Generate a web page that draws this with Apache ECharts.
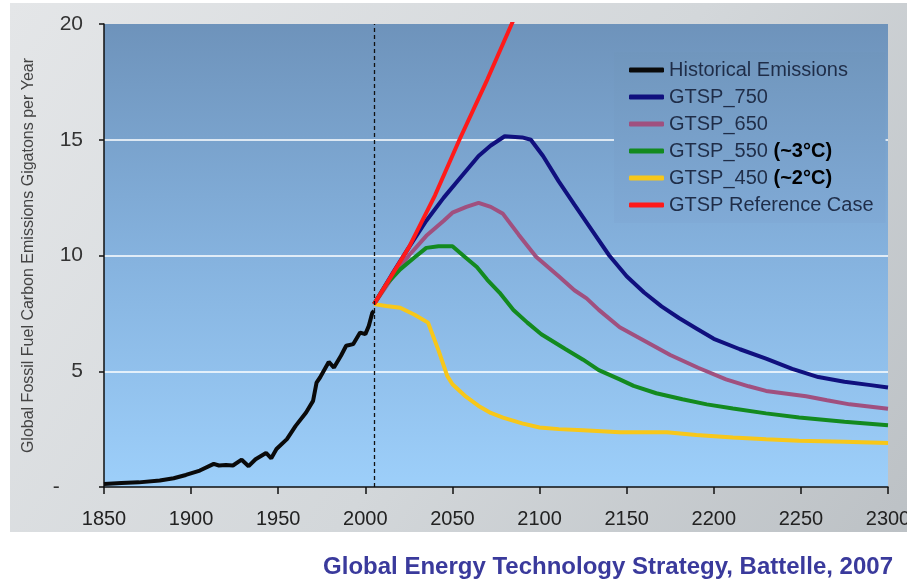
<!DOCTYPE html>
<html>
<head>
<meta charset="utf-8">
<title>Global Fossil Fuel Carbon Emissions</title>
<script src="https://cdn.jsdelivr.net/npm/echarts@6/dist/echarts.min.js"></script>
<style>
  html, body { margin: 0; padding: 0; background: #ffffff; }
  #chart {
    width: 907px;
    height: 581px;
    background-color: #ffffff;
    background-image: linear-gradient(125deg, #e4e6e8 0%, #d3d7da 55%, #bcc1c5 100%);
    background-repeat: no-repeat;
    background-position: 10px 3px;
    background-size: 897px 529px;
  }
</style>
</head>
<body>
<div id="chart"></div>
<script>
// historical emissions (GtC / yr)
const histYears = [1850, 1860, 1870, 1882, 1890, 1897, 1905, 1913, 1916, 1920, 1924, 1929, 1933, 1937, 1943, 1946, 1949, 1955, 1960, 1966, 1970, 1972, 1974, 1979, 1982, 1986, 1989, 1993, 1997, 2000, 2002, 2004, 2005];
const histVals  = [0.13, 0.17, 0.2, 0.28, 0.38, 0.52, 0.71, 1.0, 0.93, 0.95, 0.93, 1.18, 0.9, 1.2, 1.47, 1.24, 1.64, 2.07, 2.64, 3.22, 3.72, 4.51, 4.73, 5.4, 5.16, 5.67, 6.1, 6.17, 6.67, 6.6, 6.96, 7.53, 7.6];

// GTSP_750
const g750Years = [2005, 2015, 2025, 2035, 2045, 2055, 2065, 2072, 2080, 2090, 2095, 2102, 2111, 2120, 2130, 2140, 2150, 2160, 2170, 2180, 2190, 2200, 2215, 2230, 2245, 2260, 2275, 2290, 2300];
const g750Vals  = [7.9, 9.15, 10.35, 11.5, 12.5, 13.4, 14.3, 14.75, 15.15, 15.1, 15.0, 14.3, 13.2, 12.2, 11.1, 10.0, 9.1, 8.4, 7.8, 7.3, 6.85, 6.4, 5.95, 5.55, 5.1, 4.75, 4.55, 4.4, 4.3];

// GTSP_650
const g650Years = [2005, 2015, 2025, 2035, 2045, 2050, 2058, 2065, 2072, 2079, 2088, 2098, 2111, 2120, 2127, 2134, 2146, 2163, 2175, 2191, 2207, 2220, 2230, 2253, 2265, 2278, 2300];
const g650Vals  = [7.9, 9.0, 10.0, 10.85, 11.5, 11.85, 12.1, 12.27, 12.1, 11.8, 10.9, 9.95, 9.1, 8.5, 8.15, 7.65, 6.9, 6.2, 5.7, 5.15, 4.65, 4.35, 4.15, 3.92, 3.75, 3.57, 3.38];

// GTSP_550
const g550Years = [2005, 2012, 2020, 2028, 2035, 2042, 2050, 2057, 2064, 2070, 2077, 2085, 2093, 2101, 2115, 2125, 2134, 2146, 2154, 2167, 2182, 2196, 2211, 2230, 2249, 2275, 2300];
const g550Vals  = [7.9, 8.75, 9.4, 9.9, 10.33, 10.4, 10.4, 9.95, 9.5, 8.95, 8.4, 7.65, 7.1, 6.6, 5.95, 5.5, 5.05, 4.65, 4.37, 4.05, 3.79, 3.57, 3.39, 3.18, 3.0, 2.82, 2.67];

// GTSP_450
const g450Years = [2005, 2012, 2020, 2028, 2036, 2042, 2047, 2050, 2057, 2065, 2072, 2079, 2090, 2100, 2111, 2125, 2146, 2173, 2190, 2211, 2230, 2249, 2275, 2300];
const g450Vals  = [7.9, 7.82, 7.74, 7.45, 7.1, 5.9, 4.8, 4.44, 3.95, 3.5, 3.2, 3.0, 2.75, 2.57, 2.5, 2.45, 2.36, 2.36, 2.25, 2.14, 2.06, 2.0, 1.95, 1.9];

// GTSP Reference Case
const refYears = [2005, 2025, 2040, 2054, 2070, 2084, 2095];
const refVals  = [7.9, 10.35, 12.6, 15.0, 17.6, 20.0, 21.9];

const xTicks = [1850, 1900, 1950, 2000, 2050, 2100, 2150, 2200, 2250, 2300];
const yTicks = [0, 5, 10, 15, 20];

function pairs(xs, ys) {
  return xs.map((x, i) => [x, ys[i]]);
}

const arial = "'Liberation Sans', Arial, sans-serif";

let chart = echarts.init(document.getElementById("chart"));

function lineSeries(name, data, color, extra) {
  return Object.assign({
    name: name,
    type: "line",
    data: data,
    showSymbol: false,
    symbol: "none",
    smooth: false,
    lineStyle: { color: color, width: 4 },
    itemStyle: { color: color }
  }, extra || {});
}

const option = {
  backgroundColor: "transparent",
  animation: false,
  title: {
    text: "Global Energy Technology Strategy, Battelle, 2007",
    right: 9,
    top: 550,
    textStyle: { color: "#3a3a9c", fontSize: 24, fontWeight: "bold", fontFamily: arial }
  },
  grid: {
    left: 104,
    right: 19,
    top: 24,
    bottom: 94,
    outerBoundsMode: "none",
    containLabel: false,
    show: true,
    borderWidth: 0,
    backgroundColor: new echarts.graphic.LinearGradient(0, 0, 0, 1, [
      { offset: 0, color: "#6e93bb" },
      { offset: 0.5, color: "#85b2de" },
      { offset: 1, color: "#9dcffa" }
    ])
  },
  legend: {
    left: 614,
    top: 52,
    orient: "vertical",
    padding: [8, 12, 8, 15],
    itemGap: 7,
    itemWidth: 35,
    itemHeight: 5,
    icon: "roundRect",
    backgroundColor: new echarts.graphic.LinearGradient(0, 0, 0, 1, [
      { offset: 0, color: "#7096bd" },
      { offset: 1, color: "#80aad6" }
    ]),
    data: ["Historical Emissions", "GTSP_750", "GTSP_650", "GTSP_550", "GTSP_450", "GTSP Reference Case"],
    formatter: function (name) {
      if (name === "GTSP_550") return name + " {b|(~3°C)}";
      if (name === "GTSP_450") return name + " {b|(~2°C)}";
      return name;
    },
    textStyle: {
      color: "#1f2d48",
      fontSize: 20,
      fontFamily: arial,
      rich: { b: { color: "#000", fontWeight: "bold", fontSize: 20, fontFamily: arial } }
    }
  },
  xAxis: {
    type: "value",
    min: xTicks[0],
    max: xTicks[xTicks.length - 1],
    interval: 50,
    splitLine: { show: false },
    axisLine: { show: true, lineStyle: { color: "#111", width: 1.5 } },
    axisTick: { show: true, length: 7, lineStyle: { color: "#111", width: 1.5 } },
    axisLabel: {
      color: "#222",
      fontSize: 20,
      fontFamily: arial,
      margin: 22,
      showMaxLabel: true,
      formatter: function (v) { return String(v); }
    }
  },
  yAxis: {
    type: "value",
    min: yTicks[0],
    max: yTicks[yTicks.length - 1],
    interval: 5,
    name: "Global Fossil Fuel Carbon Emissions Gigatons per Year",
    nameLocation: "middle",
    nameGap: 67,
    nameTextStyle: { color: "#444", fontSize: 16, fontFamily: arial },
    axisLine: { show: true, lineStyle: { color: "#111", width: 1.5 } },
    axisTick: { show: true, length: 5, lineStyle: { color: "#111", width: 1.5 } },
    axisLabel: {
      color: "#333",
      fontSize: 21,
      fontFamily: arial,
      margin: 21,
      formatter: function (v) { return v === 0 ? "-    " : String(v); }
    },
    splitLine: {
      show: true,
      lineStyle: { color: ["rgba(0,0,0,0)", "#ffffff", "#ffffff", "#ffffff", "rgba(0,0,0,0)"], width: 1.5 }
    }
  },
  series: [
    lineSeries("Historical Emissions", pairs(histYears, histVals), "#0a0a0a", {
      markLine: {
        silent: true,
        symbol: "none",
        label: { show: false },
        lineStyle: { color: "#111", type: [4, 3], width: 1.3 },
        data: [{ xAxis: 2005 }]
      }
    }),
    lineSeries("GTSP_750", pairs(g750Years, g750Vals), "#10107e"),
    lineSeries("GTSP_650", pairs(g650Years, g650Vals), "#a0507f"),
    lineSeries("GTSP_550", pairs(g550Years, g550Vals), "#138a1f"),
    lineSeries("GTSP_450", pairs(g450Years, g450Vals), "#f7c71a"),
    lineSeries("GTSP Reference Case", pairs(refYears, refVals), "#ff1a1a")
  ]
};

chart.setOption(option);

window.addEventListener("resize", function () {
  chart.resize();
});
</script>
</body>
</html>
